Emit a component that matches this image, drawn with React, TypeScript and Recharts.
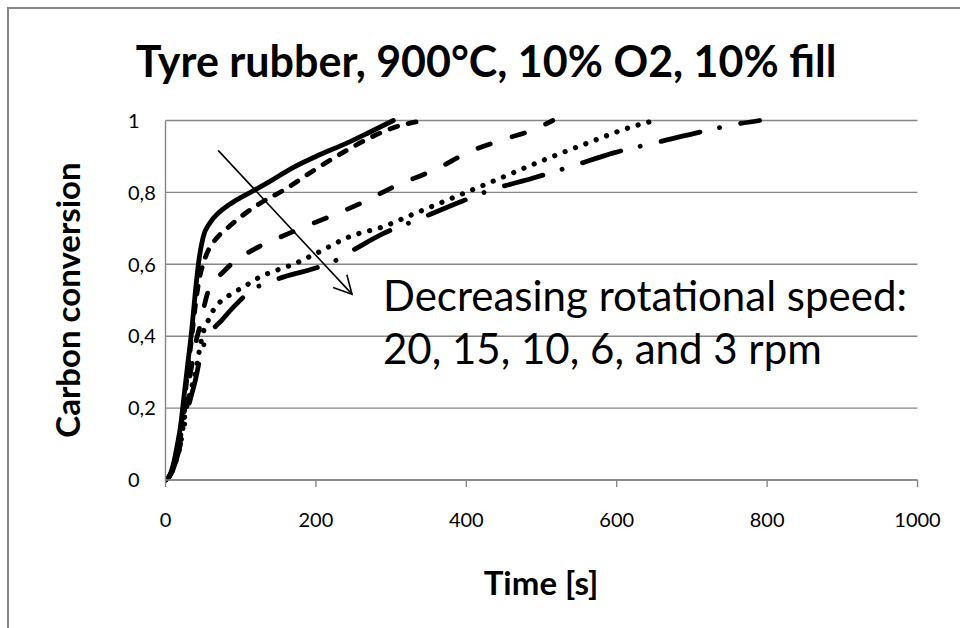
import React from "react";
import {
  LineChart,
  Line,
  XAxis,
  YAxis,
  CartesianGrid,
  ReferenceLine,
} from "recharts";

// ---- Data ----
const xTicks = [0, 200, 400, 600, 800, 1000];
const yTicks = [0, 0.2, 0.4, 0.6, 0.8, 1];

const time20 = [0, 5, 10, 15, 20, 25, 30, 35, 40, 45, 50, 59, 70, 82, 97, 113, 140, 166, 200, 241, 270, 303];
const conv20 = [0, 0.01, 0.04, 0.09, 0.15, 0.24, 0.33, 0.42, 0.53, 0.62, 0.675, 0.715, 0.742, 0.762, 0.782, 0.8, 0.832, 0.865, 0.9, 0.937, 0.966, 1.0];

const time15 = [0, 5, 10, 15, 20, 25, 30, 35, 40, 45, 50, 55, 65, 82, 105, 126, 157, 200, 241, 270, 303, 343];
const conv15 = [0, 0.01, 0.035, 0.08, 0.14, 0.22, 0.31, 0.4, 0.49, 0.56, 0.6, 0.63, 0.665, 0.7, 0.74, 0.77, 0.806, 0.865, 0.917, 0.95, 0.98, 1.0];

const time10 = [0, 5, 10, 15, 20, 25, 30, 35, 40, 46, 50, 56, 63, 75, 90, 108, 130, 152, 180, 215, 260, 303, 365, 401, 454, 490, 515];
const conv10 = [0, 0.01, 0.03, 0.07, 0.12, 0.19, 0.26, 0.32, 0.38, 0.43, 0.47, 0.52, 0.55, 0.575, 0.605, 0.63, 0.655, 0.675, 0.7, 0.73, 0.77, 0.815, 0.87, 0.91, 0.95, 0.975, 1.0];

const time6 = [0, 5, 10, 15, 20, 25, 30, 35, 40, 45, 50, 56, 63, 75, 90, 110, 126, 150, 170, 200, 245, 290, 330, 374, 432, 503, 561, 621, 651];
const conv6 = [0, 0.01, 0.03, 0.06, 0.1, 0.17, 0.22, 0.26, 0.3, 0.36, 0.41, 0.44, 0.47, 0.5, 0.52, 0.545, 0.565, 0.585, 0.6, 0.63, 0.677, 0.705, 0.74, 0.778, 0.828, 0.89, 0.937, 0.983, 1.0];

const time3 = [0, 5, 10, 15, 20, 25, 30, 35, 40, 45, 50, 60, 75, 90, 113, 150, 192, 219, 250, 290, 330, 381, 432, 489, 541, 596, 649, 705, 760, 790];
const conv3 = [0, 0.01, 0.03, 0.06, 0.1, 0.15, 0.2, 0.24, 0.28, 0.33, 0.37, 0.41, 0.445, 0.48, 0.525, 0.56, 0.585, 0.603, 0.64, 0.686, 0.72, 0.764, 0.806, 0.84, 0.873, 0.91, 0.937, 0.965, 0.99, 1.0];

const arrowStart = { x: 70, y: 0.917 };
const arrowEnd = { x: 248, y: 0.517 };

const zip = (xs: number[], ys: number[]) => xs.map((x, i) => ({ x, y: ys[i] }));

const series = [
  { name: "20 rpm", data: zip(time20, conv20), dash: undefined as string | undefined, width: 4.8 },
  { name: "15 rpm", data: zip(time15, conv15), dash: "8 11", width: 4.8 },
  { name: "10 rpm", data: zip(time10, conv10), dash: "13 23", width: 4.8 },
  { name: "6 rpm", data: zip(time6, conv6), dash: "0.1 11", width: 5.2 },
  { name: "3 rpm", data: zip(time3, conv3), dash: "40 20 0.1 21.4", width: 4.8 },
];

const FONT = "Lato, 'Open Sans', sans-serif";
const GRAY = "#868686";

const YTick = (props: any) => {
  const { y, payload } = props;
  return (
    <text x={128} y={y} dy="0.36em" fontSize={20} fontFamily={FONT} fill="#000" textAnchor="start">
      {String(payload.value).replace(".", ",")}
    </text>
  );
};

const ArrowShape = (props: any) => {
  const { x1, y1, x2, y2 } = props;
  if ([x1, y1, x2, y2].some((v) => typeof v !== "number" || isNaN(v))) return <g />;
  const ang = Math.atan2(y2 - y1, x2 - x1);
  const len = 20;
  const spread = (28 * Math.PI) / 180;
  const ax = x2 - len * Math.cos(ang - spread);
  const ay = y2 - len * Math.sin(ang - spread);
  const bx = x2 - len * Math.cos(ang + spread);
  const by = y2 - len * Math.sin(ang + spread);
  return (
    <g>
      <line x1={x1} y1={y1} x2={x2} y2={y2} stroke="#000" strokeWidth={1.6} />
      <polyline points={`${ax},${ay} ${x2},${y2} ${bx},${by}`} fill="none" stroke="#000" strokeWidth={1.6} />
    </g>
  );
};

const textBase = {
  position: "absolute" as const,
  fontFamily: FONT,
  color: "#000",
  whiteSpace: "nowrap" as const,
  lineHeight: 1,
};

export default function App() {
  return (
    <div style={{ position: "absolute", left: 0, top: 0, width: 960, height: 628, background: "#fff", overflow: "hidden" }}>
      <div
        style={{
          position: "absolute",
          left: 7,
          top: 7,
          width: 980,
          height: 660,
          borderLeft: `2px solid ${GRAY}`,
          borderTop: `2px solid ${GRAY}`,
          boxSizing: "border-box",
        }}
      />
      <div style={{ position: "absolute", left: 0, top: 0 }}>
        <LineChart
          width={960}
          height={628}
          margin={{ top: 120.5, right: 42.5, bottom: 118, left: 105.5 }}
        >
          <CartesianGrid vertical={false} stroke={GRAY} strokeWidth={1.4} />
          <XAxis
            type="number"
            dataKey="x"
            domain={[0, 1000]}
            ticks={xTicks}
            allowDataOverflow
            height={30}
            axisLine={{ stroke: GRAY, strokeWidth: 1.4 }}
            tickLine={{ stroke: GRAY, strokeWidth: 1.4 }}
            tickSize={7}
            tickMargin={26}
            tick={{ fontSize: 20, fontFamily: FONT, fill: "#000" }}
          />
          <YAxis
            type="number"
            domain={[0, 1]}
            ticks={yTicks}
            width={60}
            axisLine={{ stroke: GRAY, strokeWidth: 1.4 }}
            tickLine={false}
            tick={<YTick />}
          />
          {series.map((s) => (
            <Line
              key={s.name}
              name={s.name}
              data={s.data}
              dataKey="y"
              type="monotone"
              stroke="#000"
              strokeWidth={s.width}
              strokeDasharray={s.dash}
              strokeLinecap="round"
              dot={false}
              activeDot={false}
              isAnimationActive={false}
            />
          ))}
          <ReferenceLine
            segment={[arrowStart, arrowEnd]}
            ifOverflow="visible"
            shape={ArrowShape}
          />
        </LineChart>
      </div>
      <div
        style={{
          ...textBase,
          left: 0,
          width: 972,
          top: 39,
          textAlign: "center",
          fontWeight: 700,
          fontSize: 43,
        }}
      >
        Tyre rubber, 900°C, 10% O2, 10% fill
      </div>
      <div
        style={{
          ...textBase,
          left: 67,
          top: 300,
          transform: "translate(-50%, -50%) rotate(-90deg)",
          fontWeight: 700,
          fontSize: 33,
        }}
      >
        Carbon conversion
      </div>
      <div
        style={{
          ...textBase,
          left: 541,
          top: 566,
          transform: "translateX(-50%)",
          fontWeight: 700,
          fontSize: 33,
        }}
      >
        Time [s]
      </div>
      <div
        style={{
          ...textBase,
          left: 383,
          top: 269,
          fontWeight: 400,
          fontSize: 42,
          lineHeight: "53px",
        }}
      >
        Decreasing rotational speed:
        <br />
        20, 15, 10, 6, and 3 rpm
      </div>
    </div>
  );
}
